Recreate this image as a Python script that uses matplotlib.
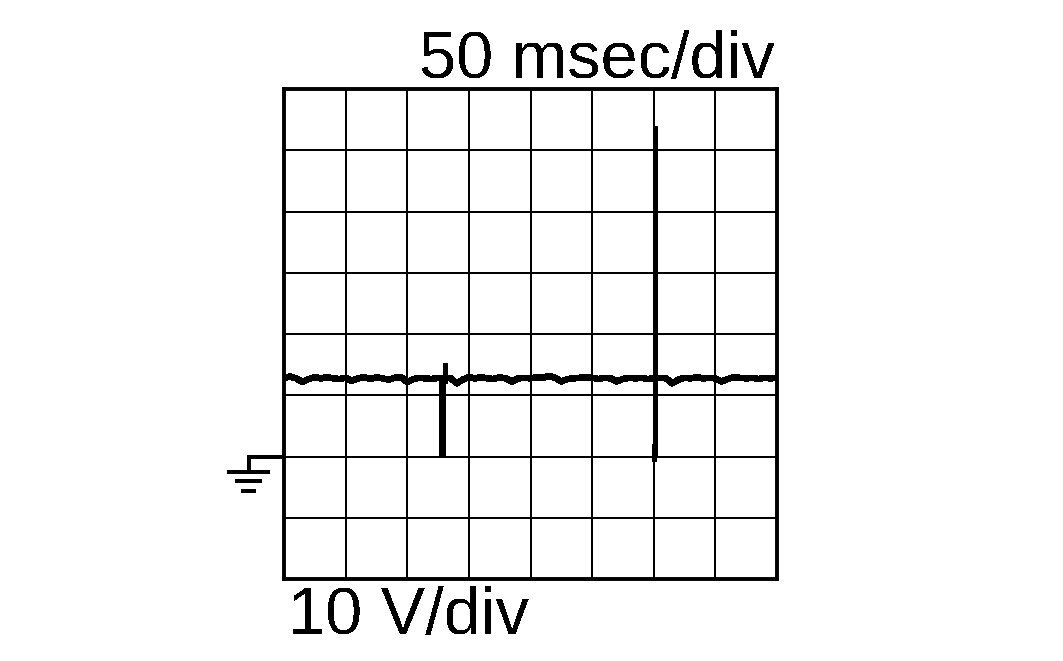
#import modules
import matplotlib
matplotlib.use('Agg')
import matplotlib.pyplot as plt
from matplotlib.lines import Line2D

plt.rcParams['font.family'] = ['Liberation Sans', 'DejaVu Sans']
plt.rcParams['text.antialiased'] = False
plt.rcParams['lines.antialiased'] = False

#scope settings
time_per_div = 50
volt_per_div = 10
time_label = '50 msec/div'
volt_label = '10 V/div'

#trace, msec and volts above ground
time_ms = list(range(0, 405, 5))
volts = [12.85, 13.05, 12.75, 12.15, 12.65, 12.95, 12.75, 12.95, 12.75, 12.65, 12.85, 12.35,
         12.75, 12.95, 12.65, 12.95, 12.75, 12.55, 12.85, 12.95, 12.15, 12.65, 12.85, 12.75,
         12.65, 12.85, 12.75, 12.85, 11.95, 12.55, 12.95, 12.75, 12.95, 12.75, 12.65, 12.95,
         12.75, 12.25, 12.75, 12.85, 12.75, 12.95, 12.85, 13.15, 12.85, 12.25, 12.65, 12.75,
         12.85, 12.95, 12.85, 12.65, 12.85, 12.75, 12.25, 12.65, 12.85, 12.75, 12.85, 12.65,
         12.75, 12.85, 12.75, 11.95, 12.55, 12.85, 12.75, 12.95, 12.75, 12.85, 12.75, 12.25,
         12.65, 12.95, 12.85, 12.75, 12.85, 12.65, 12.85, 12.75, 12.85]

#the two spikes
spike1_low_t = [128.6, 128.6]
spike1_low_v = [0.2, 13.0]
spike1_high_t = [130.3, 130.3]
spike1_high_v = [12.0, 15.3]
spike2_t = [300.9, 300.9]
spike2_v = [0.0, 53.9]
spike2_tail_t = [299.9, 299.9]
spike2_tail_v = [-0.8, 2.0]

fig = plt.figure(figsize=(10.63, 6.61), dpi=100)
ax = fig.add_axes([284 / 1063, 1 - 579 / 661, (777 - 284) / 1063, (579 - 89) / 661])

ax.set_xlim(0, 8 * time_per_div)
ax.set_ylim(-2 * volt_per_div, 6 * volt_per_div)
ax.set_xticks(range(0, 8 * time_per_div + 1, time_per_div))
ax.set_yticks(range(-2 * volt_per_div, 6 * volt_per_div + 1, volt_per_div))
ax.grid(True, color='black', linewidth=1.44, antialiased=True)
ax.set_axisbelow(True)
ax.tick_params(length=0, labelbottom=False, labelleft=False)
for s in ax.spines.values():
    s.set_linewidth(2.8)

ax.plot(time_ms, volts, color='black', linewidth=4.0, solid_joinstyle='round')
ax.plot(spike1_low_t, spike1_low_v, color='black', linewidth=5.0, solid_capstyle='butt')
ax.plot(spike1_high_t, spike1_high_v, color='black', linewidth=3.5, solid_capstyle='butt')
ax.plot(spike2_t, spike2_v, color='black', linewidth=3.6, solid_capstyle='butt')
ax.plot(spike2_tail_t, spike2_tail_v, color='black', linewidth=2.5, solid_capstyle='butt')

#labels
fig.text(775 / 1063, 1 - 78 / 661, time_label, ha='right', va='baseline', fontsize=48)
fig.text(288 / 1063, 1 - 634 / 661, volt_label, ha='left', va='baseline', fontsize=48)

#ground symbol
def px_line(x, y, lw):
    fig.add_artist(Line2D([v / 1063 for v in x], [1 - v / 661 for v in y], color='black',
                          linewidth=lw, solid_capstyle='butt', transform=fig.transFigure))

px_line([284, 249, 249], [457, 457, 472], 2.8)
px_line([227, 270], [472, 472], 2.8)
px_line([235, 262], [481, 481], 2.8)
px_line([241, 256], [491, 491], 2.8)

fig.savefig('out.png', dpi=100)
